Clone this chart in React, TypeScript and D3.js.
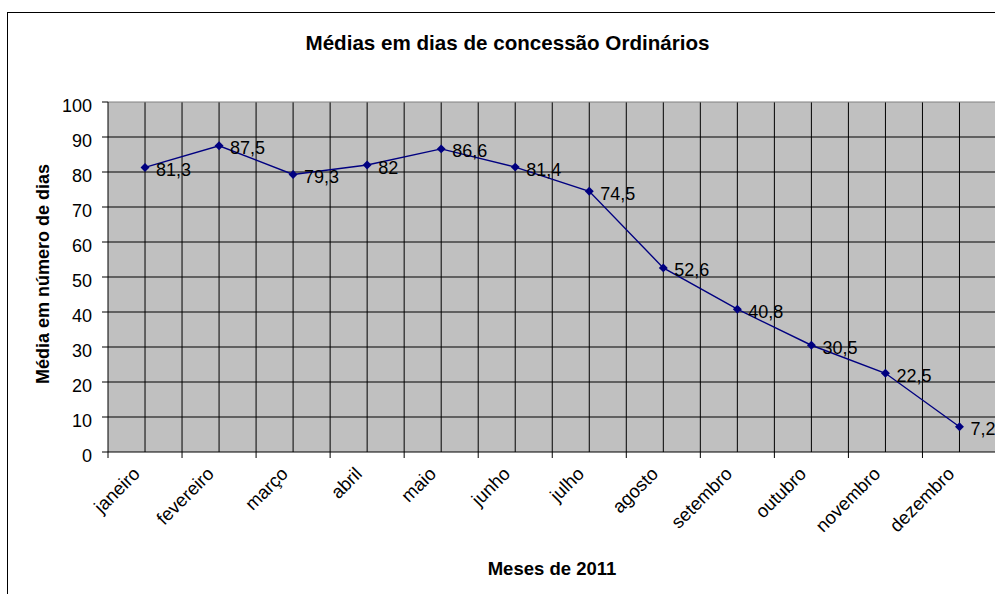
import React from "react";
import * as d3 from "d3";

const months = ["janeiro", "fevereiro", "março", "abril", "maio", "junho", "julho", "agosto", "setembro", "outubro", "novembro", "dezembro"];
const values = [81.3, 87.5, 79.3, 82, 86.6, 81.4, 74.5, 52.6, 40.8, 30.5, 22.5, 7.2];
const labels = ["81,3", "87,5", "79,3", "82", "86,6", "81,4", "74,5", "52,6", "40,8", "30,5", "22,5", "7,2"];
const yTicks = [0, 10, 20, 30, 40, 50, 60, 70, 80, 90, 100];

const title = "Médias em dias de concessão Ordinários";
const xTitle = "Meses de 2011";
const yTitle = "Média em número de dias";

const W = 995;
const H = 594;
const FONT = "'Liberation Sans', Arial, Helvetica, sans-serif";

export default function App() {
  const left = 108, right = 996.5, top = 102, bottom = 452;
  const x = d3.scaleBand<string>().domain(months).range([left, right]).padding(0);
  const y = d3.scaleLinear().domain([0, 100]).range([bottom, top]);
  const bw = x.bandwidth();
  const cx = (m: string) => (x(m) as number) + bw / 2;

  const line = d3
    .line<number>()
    .x((_, i) => cx(months[i]))
    .y((d) => y(d));

  const marker = d3.symbol().type(d3.symbolSquare).size(40)() as string;

  const vLines: number[] = [];
  months.forEach((m) => {
    vLines.push(x(m) as number);
    vLines.push(cx(m));
  });

  return (
    <svg width={W} height={H} style={{ position: "absolute", left: 0, top: 0, background: "#fff" }} fontFamily={FONT}>
      <rect x={7.5} y={12.5} width={1100} height={700} fill="#fff" stroke="#000" strokeWidth={1} />
      <text x={507.5} y={50} textAnchor="middle" fontSize={20.6} fontWeight="bold" fill="#000">
        {title}
      </text>
      {/* plot area */}
      <rect x={left} y={top} width={right - left} height={bottom - top} fill="#c0c0c0" />
      {yTicks.filter((t) => t > 0 && t < 100).map((t) => (
        <line key={"h" + t} x1={left} x2={right} y1={y(t)} y2={y(t)} stroke="#000" strokeWidth={1} />
      ))}
      {vLines.slice(1).map((v, i) => (
        <line key={"v" + i} x1={v} x2={v} y1={top} y2={bottom} stroke="#000" strokeWidth={1} />
      ))}
      <line x1={left} x2={right} y1={top} y2={top} stroke="#808080" strokeWidth={1} />
      {/* axes */}
      <line x1={left} x2={left} y1={top} y2={bottom} stroke="#000" strokeWidth={1} />
      <line x1={left} x2={right} y1={bottom} y2={bottom} stroke="#000" strokeWidth={1.2} />
      {yTicks.map((t) => (
        <g key={"yt" + t}>
          <line x1={left - 6} x2={left} y1={y(t)} y2={y(t)} stroke="#000" />
          <text x={92} y={y(t) + 9.5} textAnchor="end" fontSize={18} fill="#000">
            {t}
          </text>
        </g>
      ))}
      {months.map((m) => (
        <line key={"xt" + m} x1={x(m) as number} x2={x(m) as number} y1={bottom} y2={bottom + 6} stroke="#000" />
      ))}
      {months.map((m) => (
        <text
          key={"xl" + m}
          transform={`translate(${cx(m) - 4},475) rotate(-45)`}
          textAnchor="end"
          fontSize={18.5}
          fill="#000"
        >
          {m}
        </text>
      ))}
      <text x={552} y={575} textAnchor="middle" fontSize={18.5} fontWeight="bold" fill="#000">
        {xTitle}
      </text>
      <text transform={`translate(49,274) rotate(-90)`} textAnchor="middle" fontSize={18} fontWeight="bold" fill="#000">
        {yTitle}
      </text>
      {/* series */}
      <path d={line(values) as string} fill="none" stroke="#000080" strokeWidth={1.4} />
      {values.map((v, i) => (
        <path key={"m" + i} d={marker} transform={`translate(${cx(months[i])},${y(v)}) rotate(45)`} fill="#000080" />
      ))}
      {values.map((v, i) => (
        <text key={"dl" + i} x={cx(months[i]) + 11} y={y(v) + 8.5} fontSize={18} fill="#000">
          {labels[i]}
        </text>
      ))}
    </svg>
  );
}
